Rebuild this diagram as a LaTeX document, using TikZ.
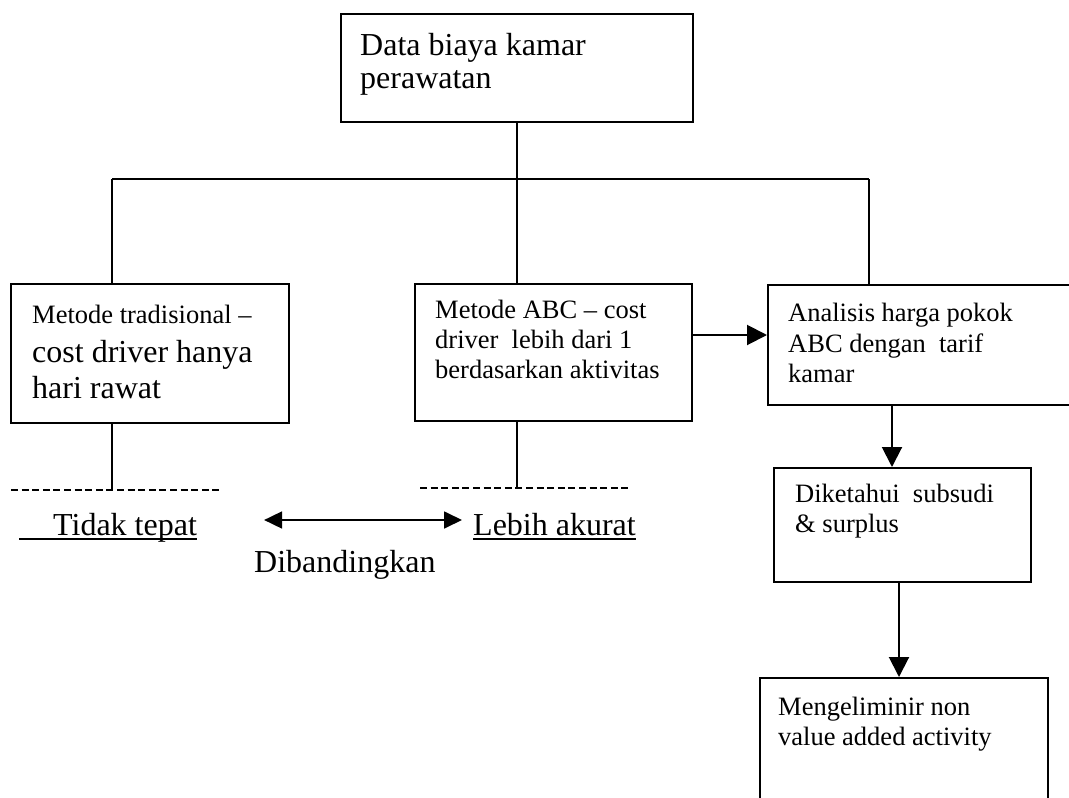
\documentclass[tikz,border=0pt]{standalone}
\usepackage{fontspec}
\setmainfont{Liberation Serif}
\usetikzlibrary{arrows.meta,calc}
\tikzset{
 box/.style={draw, line width=2.2pt, rectangle, inner sep=0pt, anchor=north west},
 txt/.style={inner sep=0pt, anchor=base west, font=\fontsize{26.5}{30}\selectfont},
 bigtxt/.style={inner sep=0pt, anchor=base west, font=\fontsize{32}{36}\selectfont},
 conn/.style={line width=2pt},
 arr/.style={line width=2pt, -{Triangle[length=20pt,width=20pt]}},
 darr/.style={line width=1.8pt, {Triangle[length=18pt,width=17pt]}-{Triangle[length=18pt,width=17pt]}},
 dashline/.style={line width=2.5pt, dash pattern=on 7pt off 3.6pt},
 uline/.style={line width=2pt},
}
\begin{document}
\begin{tikzpicture}[x=1pt,y=-1pt]
\useasboundingbox (0,0) rectangle (1069,798);
\clip (0,0) rectangle (1069,798);
% boxes
\node[box, minimum width=352pt, minimum height=108pt] (top) at (340,13) {};
\node[box, minimum width=278pt, minimum height=139pt] (trad) at (10,283) {};
\node[box, minimum width=277pt, minimum height=137pt] (abc) at (414,283) {};
\node[box, minimum width=380pt, minimum height=120pt] (ana) at (767,284) {};
\node[box, minimum width=257pt, minimum height=114pt] (dik) at (773,467) {};
\node[box, minimum width=288pt, minimum height=160pt] (mel) at (759,677) {};
% texts
\node[bigtxt] (top1) at (360,55) {Data biaya kamar};
\node[bigtxt] (top2) at (360,88) {perawatan};
\node[txt] (trad1) at (32,323) {Metode tradisional –};
\node[bigtxt] (trad2) at (32,362) {cost driver hanya};
\node[bigtxt] (trad3) at (32,398) {hari rawat};
\node[txt] (abc1) at (435,318) {Metode ABC – cost};
\node[txt] (abc2) at (435,348) {driver\ \ lebih dari 1};
\node[txt] (abc3) at (435,378) {berdasarkan aktivitas};
\node[txt] (ana1) at (788,321) {Analisis harga pokok};
\node[txt] (ana2) at (788,352) {ABC dengan\ \ tarif};
\node[txt] (ana3) at (788,382) {kamar};
\node[txt] (dik1) at (795,502) {Diketahui\ \ subsudi};
\node[txt] (dik2) at (795,532) {\& surplus};
\node[txt] (mel1) at (778,715) {Mengeliminir non};
\node[txt] (mel2) at (778,745) {value added activity};
\node[bigtxt] (tidak) at (53,535) {Tidak tepat};
\node[bigtxt] (lebih) at (473,535) {Lebih akurat};
\node[bigtxt] (banding) at (254,572) {Dibandingkan};
% tree connectors
\coordinate (hl) at (112,179);
\coordinate (hr) at (869,179);
\draw[conn] (top.south) -- (top.south |- hl);
\draw[conn] (hl) -- (hr);
\draw[conn] (hl) -- (hl |- trad.north);
\draw[conn] (top.south |- hl) -- (top.south |- abc.north);
\draw[conn] (hr) -- (hr |- ana.north);
% lower lines
\coordinate (d1a) at (11,490);
\coordinate (d1b) at (223,490);
\coordinate (d2a) at (420,488);
\coordinate (d2b) at (629,488);
\draw[dashline] (d1a) -- (d1b);
\draw[dashline] (d2a) -- (d2b);
\draw[conn] (hl |- trad.south) -- (hl |- d1a);
\draw[conn] (top.south |- abc.south) -- (top.south |- d2a);
% underlines
\draw[uline] ([shift={(-34pt,-4pt)}]tidak.base west) -- ([yshift=-4pt]tidak.base east);
\draw[uline] ([yshift=-4pt]lebih.base west) -- ([yshift=-4pt]lebih.base east);
% arrows
\draw[darr] ([shift={(67pt,15pt)}]tidak.base east) -- ([shift={(-11pt,15pt)}]lebih.base west);
\draw[arr] ([yshift=-52pt]abc.north east) -- ([yshift=-52pt]abc.north east -| ana.west);
\draw[arr] ([xshift=119pt]dik.north west |- ana.south) -- ([xshift=119pt]dik.north west);
\draw[arr] ([xshift=126pt]dik.south west) -- ([xshift=126pt]dik.south west |- mel.north);
\end{tikzpicture}
\end{document}
